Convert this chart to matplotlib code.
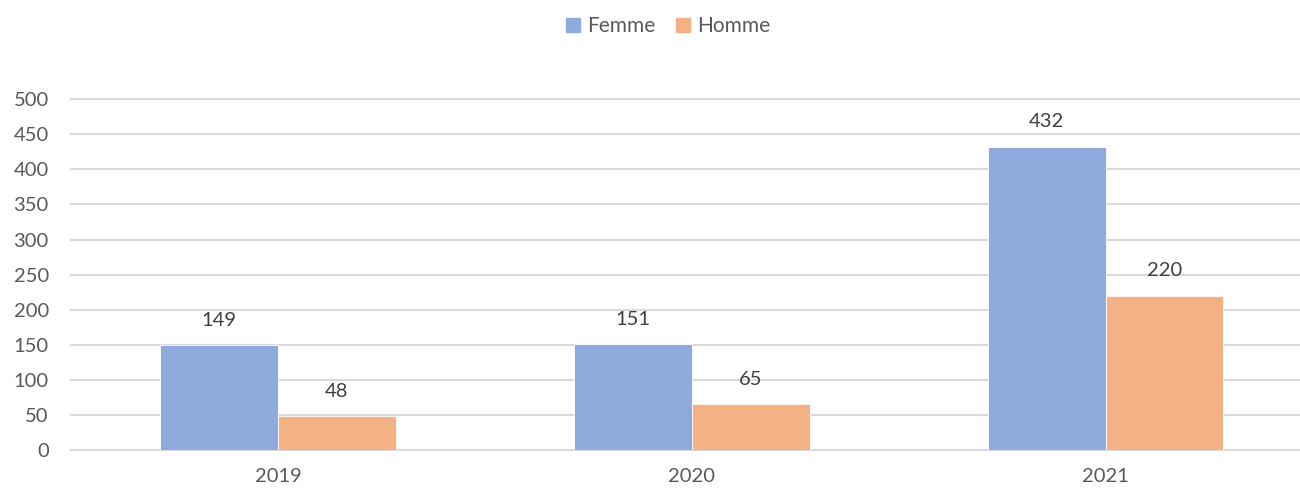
import numpy as np
import matplotlib.pyplot as plt
from matplotlib.patches import Patch

years = ["2019", "2020", "2021"]
femme = [149, 151, 432]
homme = [48, 65, 220]

plt.rcParams['font.family'] = ['Lato', 'DejaVu Sans']

fig = plt.figure(figsize=(13, 4.91), dpi=100)
ax = fig.add_axes([0.0546, 0.0835, 0.9454, 0.7145])

x = np.arange(len(years))
w = 0.285
c_f = "#8faadc"
c_h = "#f4b183"

bf = ax.bar(x - w / 2, femme, w, color=c_f, edgecolor="white", linewidth=0.6, zorder=3)
bh = ax.bar(x + w / 2, homme, w, color=c_h, edgecolor="white", linewidth=0.6, zorder=3)

for bars, vals in ((bf, femme), (bh, homme)):
    for b, v in zip(bars, vals):
        ax.annotate(str(v), (b.get_x() + b.get_width() / 2, v), xytext=(0, 18),
                    textcoords="offset points", ha="center", va="center",
                    fontsize=14.5, color="#404040")

ax.set_xlim(-0.5, 2.47)
ax.set_ylim(0, 500)
ax.set_yticks(np.arange(0, 501, 50))
ax.set_xticks(x)
ax.set_xticklabels(years)
ax.grid(axis="y", color="#d9d9d9", linewidth=1.5, zorder=0)
for gl in ax.get_ygridlines():
    gl.set_clip_on(False)
for s in ax.spines.values():
    s.set_visible(False)
ax.tick_params(length=0, labelsize=14.5, labelcolor="#595959")
ax.tick_params(axis="y", pad=16)
ax.tick_params(axis="x", pad=13)

handles = [Patch(color=c_f, label="Femme"), Patch(color=c_h, label="Homme")]
fig.legend(handles=handles, loc="center", bbox_to_anchor=(0.514, 0.947), ncol=2,
           frameon=False, fontsize=15, labelcolor="#595959", handlelength=0.65,
           handleheight=0.65, handletextpad=0.35, columnspacing=1.0)

fig.savefig("out.png")
